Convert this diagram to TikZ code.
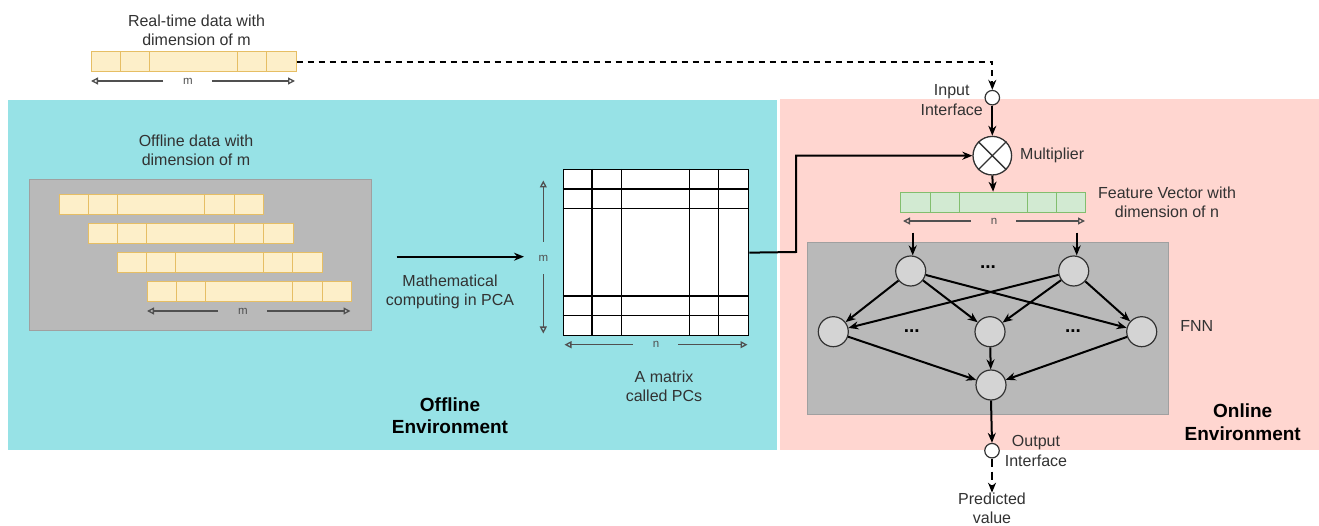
\documentclass[tikz,border=0pt]{standalone}
\usepackage{fontspec}
\setmainfont{Liberation Sans}
\usetikzlibrary{arrows.meta,calc}
\definecolor{cyanbg}{RGB}{151,226,230}
\definecolor{pinkbg}{RGB}{255,214,208}
\definecolor{boxgray}{RGB}{185,185,185}
\definecolor{boxedge}{RGB}{160,160,160}
\definecolor{yfill}{RGB}{253,239,201}
\definecolor{yedge}{RGB}{230,190,100}
\definecolor{gfill}{RGB}{210,234,210}
\definecolor{gedge}{RGB}{130,190,110}
\definecolor{txtc}{RGB}{50,50,50}
\definecolor{dimc}{RGB}{80,80,80}
\definecolor{nnfill}{RGB}{212,212,212}
\tikzset{
  txt/.style={font=\fontsize{16}{19.5}\selectfont, align=center, text=txtc, inner sep=0pt},
  btxt/.style={font=\fontsize{19}{22.5}\selectfont\bfseries, align=center, text=black, inner sep=0pt},
  small/.style={font=\fontsize{11.5}{13}\selectfont, text=dimc, inner sep=0pt},
  ybar/.style={draw=yedge, fill=yfill, line width=1pt, minimum width=204.6pt, minimum height=19.6pt, inner sep=0pt, anchor=north west},
  gbar/.style={draw=gedge, fill=gfill, line width=1pt, minimum width=185.3pt, minimum height=20pt, inner sep=0pt, anchor=north west},
  grayboxst/.style={draw=boxedge, fill=boxgray, line width=1pt, inner sep=0pt, anchor=north west},
  nn/.style={circle, draw=txtc, fill=nnfill, line width=1.2pt, minimum size=30pt, inner sep=0pt},
  iface/.style={circle, draw=txtc, fill=white, line width=1.2pt, minimum size=14.5pt, inner sep=0pt},
  conn/.style={line width=2pt, -{Stealth[length=10pt,width=8pt]}},
  dimline/.style={draw=dimc, line width=1.3pt, -{Triangle[open,length=7pt,width=7pt]}},
  dots/.style={font=\fontsize{19}{19}\selectfont\bfseries, inner sep=0pt},
}
\newcommand\ycells[1]{%
  \foreach \d in {29.3,58.6,146,175.3}{\draw[yedge, line width=1pt] ($(#1.north west)+(\d,0)$) -- ($(#1.south west)+(\d,0)$);}}
\begin{document}
\begin{tikzpicture}[x=1pt,y=-1pt]
\useasboundingbox (0,0) rectangle (1319,526);
% panels
\fill[cyanbg] (8,100) rectangle (776.5,450);
\fill[pinkbg] (779.5,99.5) rectangle (1319,450);

% real-time bar
\node[txt] (rtlab) at (196.5,30.5) {Real-time data with\\dimension of m};
\node[ybar] (rt) at (91,51.5) {};
\ycells{rt}
\node[small] (rtm) at (188,81) {m};
\draw[dimline] (rtm.west) ++(-20,0) coordinate (rtml) -- (91,81);
\draw[dimline] (rtm.east) ++(19,0) coordinate (rtmr) -- (295,81);

% offline data box
\node[txt] (offlab) at (196,150.5) {Offline data with\\dimension of m};
\node[grayboxst, minimum width=341.4pt, minimum height=151.3pt] (offbox) at (29.3,178.7) {};
\node[ybar] (r1) at (58.7,194) {};
\ycells{r1}
\node[ybar] (r2) at (88,223) {};
\ycells{r2}
\node[ybar] (r3) at (117.3,252) {};
\ycells{r3}
\node[ybar] (r4) at (146.7,281.3) {};
\ycells{r4}
\node[small] (offm) at (243,311) {m};
\draw[dimline] (offm.west) ++(-20,0) -- (147,311);
\draw[dimline] (offm.east) ++(19,0) -- (350.5,311);

% PCA arrow
\coordinate (pcaS) at (396.7,256.7);
\coordinate (pcaE) at (524,256.7);
\draw[conn] (pcaS) -- (pcaE);
\node[txt] (pcalab) at (450,292) {Mathematical\\computing in PCA};

% matrix
\node[draw=black, fill=white, line width=1.3pt, minimum width=185.3pt, minimum height=166pt, inner sep=0pt, anchor=north west] (pcs) at (562.7,169) {};
\foreach \xx in {592,621.3,689.3,718.7}{\draw[black, line width=1.3pt] (\xx,169) -- (\xx,335);}
\foreach \yy in {189,208.3,296,315.7}{\draw[black, line width=1.3pt] (562.7,\yy) -- (748,\yy);}
\node[small] (pcm) at (543.3,258) {m};
\draw[dimline] (pcm.north) ++(0,-13) -- (543.3,180.5);
\draw[dimline] (pcm.south) ++(0,13) -- (543.3,333.5);
\node[small] (pcn) at (656,344.7) {n};
\draw[dimline] (pcn.west) ++(-20,0) -- (564.5,344.7);
\draw[dimline] (pcn.east) ++(19,0) -- (747.5,344.7);
\node[txt] (pcslab) at (664,386.3) {A matrix\\called PCs};
\node[btxt] (offenv) at (450,415.5) {Offline\\Environment};

% online side
\node[iface] (inp) at (992.3,97.7) {};
\node[txt] (inplab) at (951.7,100.3) {Input\\Interface};
\node[circle, draw=txtc, fill=white, line width=1.3pt, minimum size=38.6pt, inner sep=0pt] (mult) at (992.3,155.7) {};
\draw[txtc, line width=1.3pt] (mult.north west) -- (mult.south east) (mult.north east) -- (mult.south west);
\node[txt, anchor=west] (multlab) at (1020,155.7) {Multiplier};

\draw[line width=2pt, dash pattern=on 6pt off 5pt, -{Stealth[length=10pt,width=8pt]}] (rt.east) -| (inp.north);
\draw[conn] (inp.south) -- (mult.north);
\draw[conn] (pcs.east) -- (796,252) |- (mult.west);

\node[gbar] (fv) at (900,191.7) {};
\foreach \d in {30,59,127.3,156.7}{\draw[gedge, line width=1pt] ($(fv.north west)+(\d,0)$) -- ($(fv.south west)+(\d,0)$);}
\draw[conn] (mult.south) -- (fv.north);
\node[txt] (fvlab) at (1167,202.2) {Feature Vector with\\dimension of n};
\node[small] (fvn) at (994,221) {n};
\draw[dimline] (fvn.west) ++(-20,0) -- (903,221);
\draw[dimline] (fvn.east) ++(19,0) -- (1085,221);

% FNN
\node[grayboxst, minimum width=361.6pt, minimum height=172pt] (fnnbox) at (806.7,242.3) {};
\node[txt] (fnnlab) at (1196.7,325.7) {FNN};
\node[nn] (h1) at (910.7,271) {};
\node[nn] (h2) at (1073.7,271) {};
\node[nn] (m1) at (833.3,331.7) {};
\node[nn] (m2) at (990,331.7) {};
\node[nn] (m3) at (1141.7,331.7) {};
\node[nn] (o1) at (991,385) {};
\node[dots] (d1) at (988,267) {...};
\node[dots] (d2) at (911.7,331) {...};
\node[dots] (d3) at (1073,331) {...};
\coordinate (f1) at (912.7,232.7);
\coordinate (f2) at (1076.7,232.7);
\draw[conn] (f1) -- (f1 |- h1.north);
\draw[conn] (f2) -- (f2 |- h2.north);
\foreach \a in {h1,h2}{\foreach \b in {m1,m2,m3}{\draw[conn] (\a) -- (\b);}}
\foreach \b in {m1,m2,m3}{\draw[conn] (\b) -- (o1);}

\node[iface] (outp) at (992,450.7) {};
\node[txt] (outlab) at (1036,451.2) {Output\\Interface};
\draw[conn] (o1.south) -- (outp.north);
\node[txt] (pred) at (992,508.5) {Predicted\\value};
\draw[line width=2pt, dash pattern=on 8pt off 5pt, -{Stealth[length=10pt,width=8pt]}] (outp.south) -- (pred.north);
\node[btxt] (onenv) at (1242.7,422) {Online\\Environment};
\end{tikzpicture}
\end{document}
